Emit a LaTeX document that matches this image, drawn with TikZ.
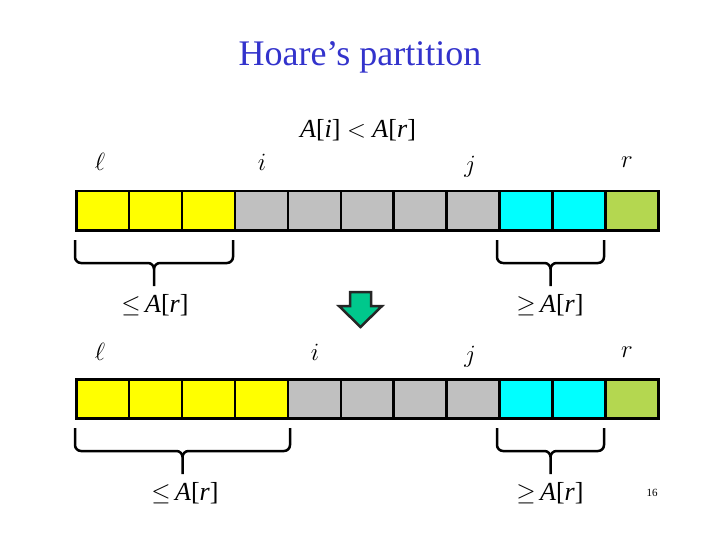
\documentclass[tikz,border=0pt]{standalone}
\usepackage{fontspec}
\setmainfont{Liberation Serif}
\begin{document}
\begin{tikzpicture}[x=1pt,y=-1pt,
  cell/.style={draw=black,line width=2.5pt,minimum width=53pt,minimum height=39pt,inner sep=0pt,anchor=north west},
  brc/.style={line width=2.5pt,line join=round},
  mathlbl/.style={font=\fontsize{42}{44}\selectfont}]
\useasboundingbox[fill=white] (0,0) rectangle (720,540);
\definecolor{cy}{RGB}{0,255,255}\definecolor{gr}{RGB}{180,215,80}\definecolor{gy}{RGB}{192,192,192}\definecolor{ye}{RGB}{255,255,0}
\definecolor{tb}{RGB}{51,51,204}
\node[font=\fontsize{36}{40}\selectfont,text=tb] (title) at (360,57) {Hoare’s partition};
\foreach \k/\c in {0/ye,1/ye,2/ye,3/gy,4/gy,5/gy,6/gy,7/gy,8/cy,9/cy,10/gr}
  \node[cell,fill=\c] (t\k) at (75+\k*52.9,190) {};
\foreach \k/\c in {0/ye,1/ye,2/ye,3/ye,4/gy,5/gy,6/gy,7/gy,8/cy,9/cy,10/gr}
  \node[cell,fill=\c] (b\k) at (75+\k*52.9,378) {};
\node[mathlbl] (l1) at (100,162) {$\ell$};
\node[mathlbl] (i1) at (262,162) {$i$};
\node[mathlbl] (j1) at (470,167) {$j$};
\node[mathlbl] (r1) at (627,162) {$r$};
\node[font=\fontsize{26}{28}\selectfont] (cmp) at (358,130) {\textit{A}[\textit{i}] $<$ \textit{A}[\textit{r}]};
\node[mathlbl] (l2) at (100,352) {$\ell$};
\node[mathlbl] (i2) at (315,352) {$i$};
\node[mathlbl] (j2) at (470,357) {$j$};
\node[mathlbl] (r2) at (627,352) {$r$};
\foreach \a/\b/\m/\y in {75/233/154/240, 497/604/550.5/240, 75/290/182.5/428, 497/604/550.5/428}{
  \draw[brc] (\a,\y) -- ++(0,17) arc[start angle=180,end angle=90,radius=6] -- (\m-6,\y+23) arc[start angle=270,end angle=360,radius=6] -- ++(0,17);
  \draw[brc] (\b,\y) -- ++(0,17) arc[start angle=0,end angle=90,radius=6] -- (\m+6,\y+23) arc[start angle=270,end angle=180,radius=6];
}
\node[font=\fontsize{26}{28}\selectfont] (s1) at (155,305) {$\leq$\,\textit{A}[\textit{r}]};
\node[font=\fontsize{26}{28}\selectfont] (s2) at (550,305) {$\geq$\,\textit{A}[\textit{r}]};
\node[font=\fontsize{26}{28}\selectfont] (s3) at (185,493) {$\leq$\,\textit{A}[\textit{r}]};
\node[font=\fontsize{26}{28}\selectfont] (s4) at (550,493) {$\geq$\,\textit{A}[\textit{r}]};
\draw[line width=2.5pt,fill={rgb,255:red,0;green,200;blue,140},line join=miter,draw=black!85]
 (350,292) -- (371,292) -- (371,306) -- (382,306) -- (360.5,327) -- (339,306) -- (350,306) -- cycle;
\node[font=\fontsize{11}{12}\selectfont] (pg) at (652,493) {16};
\end{tikzpicture}
\end{document}
